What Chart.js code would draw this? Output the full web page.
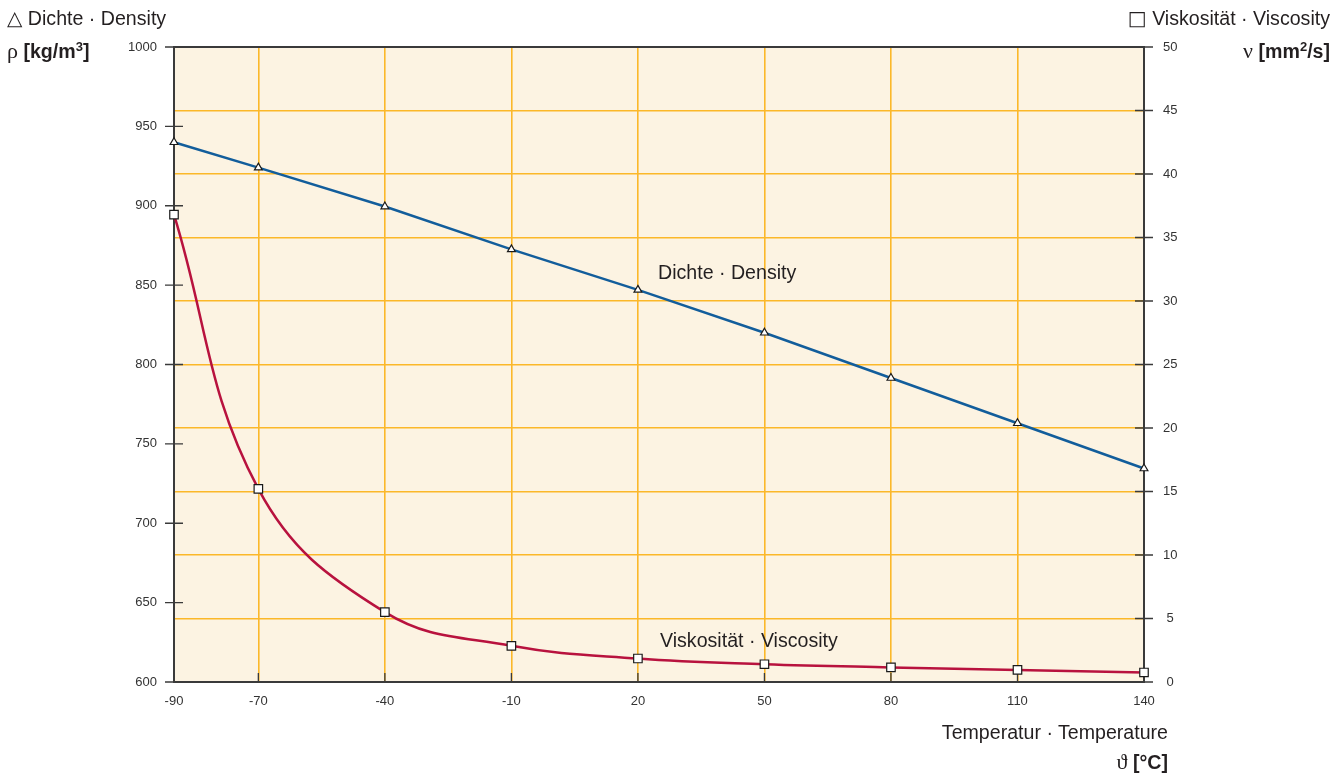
<!DOCTYPE html>
<html>
<head>
<meta charset="utf-8">
<title>Dichte und Viskosität</title>
<script src="https://cdn.jsdelivr.net/npm/chart.js@4"></script>
<style>
  body { margin: 0; background: #fff; font-family: 'Liberation Sans', Arial, sans-serif; color: #231f20; }
  #wrap { position: relative; width: 1344px; height: 778px; }
  .lbl { position: absolute; font-size: 19.6px; line-height: 20px; white-space: nowrap; }
  .shape { font-family: 'DejaVu Sans', sans-serif; font-size: 20px; }
  .sym { font-family: 'Liberation Serif', serif; font-size: 22px; }
  .unit { font-weight: bold; }
  .unit sup { font-size: 13px; vertical-align: 7px; line-height: 0; }
</style>
</head>
<body>
<div id="wrap">
  <canvas id="chart"></canvas>

  <div class="lbl" style="left:7px; top:8px;"><span class="shape">△</span> Dichte · Density</div>
  <div class="lbl" style="left:7px; top:41px;"><span class="sym">ρ</span> <span class="unit">[kg/m<sup>3</sup>]</span></div>

  <div class="lbl" style="right:14px; top:8px;"><span class="shape">□</span> Viskosität · Viscosity</div>
  <div class="lbl" style="right:14px; top:41px;"><span class="sym">ν</span> <span class="unit">[mm<sup>2</sup>/s]</span></div>

  <div class="lbl" style="right:176px; top:722px;">Temperatur · Temperature</div>
  <div class="lbl" style="right:176px; top:752px;"><span class="sym">ϑ</span> <span class="unit">[°C]</span></div>

  <div class="lbl" style="left:658px; top:262px;">Dichte · Density</div>
  <div class="lbl" style="left:660px; top:630px;">Viskosität · Viscosity</div>
</div>

<script>
// ── Data ──────────────────────────────────────────────────────────────────────
const TEMPS     = [-90, -70, -40, -10, 20, 50, 80, 110, 140];          // °C
const DENSITY   = [940, 924, 899.5, 872.5, 847, 820, 791.5, 763, 734.5]; // kg/m³
const VISCOSITY = [36.8, 15.2, 5.5, 2.85, 1.85, 1.4, 1.15, 0.95, 0.75];  // mm²/s

// ── Styles ────────────────────────────────────────────────────────────────────
const PLOT_BG = '#fcf3e2';
const GRID    = '#fbb829';
const AXIS    = '#3a3a3a';
const BLUE    = '#125d9b';
const RED     = '#b8123e';
const TICK_FONT = { family: "'Liberation Sans', Arial, sans-serif", size: 13 };

// Plot background, frame and the short tick marks across the axes
const frame = {
  id: 'frame',
  beforeDraw(chart) {
    const { ctx, chartArea: a } = chart;
    ctx.save();
    ctx.fillStyle = PLOT_BG;
    ctx.fillRect(a.left, a.top, a.right - a.left, a.bottom - a.top);
    ctx.restore();
  },
  beforeDatasetsDraw(chart) {
    const { ctx, chartArea: a, scales } = chart;
    ctx.save();
    ctx.strokeStyle = AXIS;

    ctx.lineWidth = 1.3;
    ctx.beginPath();
    scales.x.ticks.forEach(t => {
      const px = scales.x.getPixelForValue(t.value);
      ctx.moveTo(px, a.bottom - 9); ctx.lineTo(px, a.bottom);
    });
    scales.y.ticks.forEach(t => {
      const py = scales.y.getPixelForValue(t.value);
      ctx.moveTo(a.left - 9, py); ctx.lineTo(a.left + 9, py);
    });
    scales.y2.ticks.forEach(t => {
      const py = scales.y2.getPixelForValue(t.value);
      ctx.moveTo(a.right - 9, py); ctx.lineTo(a.right + 9, py);
    });
    ctx.stroke();

    ctx.lineWidth = 2;
    ctx.strokeRect(a.left, a.top, a.right - a.left, a.bottom - a.top);
    ctx.restore();
  },
};

// grid lines on the frame edges are left to the frame itself
const edgeless = ctx => (ctx.index === 0 || ctx.index === ctx.scale.ticks.length - 1) ? 'rgba(0,0,0,0)' : GRID;

new Chart(document.getElementById('chart'), {
  type: 'line',
  data: {
    datasets: [
      {
        label: 'Dichte · Density',
        data: TEMPS.map((t, i) => ({ x: t, y: DENSITY[i] })),
        yAxisID: 'y',
        clip: false,
        borderColor: BLUE,
        borderWidth: 2.5,
        tension: 0,
        pointStyle: 'triangle',
        pointRadius: 4.5,
        pointBackgroundColor: '#fff',
        pointBorderColor: '#1a1a1a',
        pointBorderWidth: 1.2,
      },
      {
        label: 'Viskosität · Viscosity',
        data: TEMPS.map((t, i) => ({ x: t, y: VISCOSITY[i] })),
        yAxisID: 'y2',
        clip: false,
        borderColor: RED,
        borderWidth: 2.5,
        tension: 0.4,
        pointStyle: 'rect',
        pointRadius: 6,
        pointBackgroundColor: '#fff',
        pointBorderColor: '#1a1a1a',
        pointBorderWidth: 1.2,
      },
    ],
  },
  options: {
    responsive: true, maintainAspectRatio: false,
    animation: false,
    layout: { padding: { top: 47, left: 0, right: 0, bottom: 0 } },
    plugins: { legend: { display: false }, tooltip: { enabled: false } },
    scales: {
      x: {
        type: 'linear', min: -90, max: 140,
        afterBuildTicks: s => { s.ticks = TEMPS.map(v => ({ value: v })); },
        afterFit: s => { s.height = 96; },
        grid: { color: edgeless, lineWidth: 1.6, drawTicks: false },
        border: { display: false },
        ticks: { autoSkip: false, maxRotation: 0, padding: 12, color: '#333', font: TICK_FONT,
                 callback: v => String(v) },
      },
      y: {
        position: 'left', min: 600, max: 1000,
        afterFit: s => { s.width = 174; },
        grid: { display: false, drawTicks: false },
        border: { display: false },
        ticks: { stepSize: 50, padding: 17, color: '#333', font: TICK_FONT,
                 callback: v => String(v) },
      },
      y2: {
        position: 'right', min: 0, max: 50,
        afterFit: s => { s.width = 200; },
        grid: { color: edgeless, lineWidth: 1.6, drawTicks: false },
        border: { display: false },
        ticks: { stepSize: 5, padding: 19, crossAlign: 'center', color: '#333', font: TICK_FONT },
      },
    },
  },
  plugins: [frame],
});
</script>
</body>
</html>
